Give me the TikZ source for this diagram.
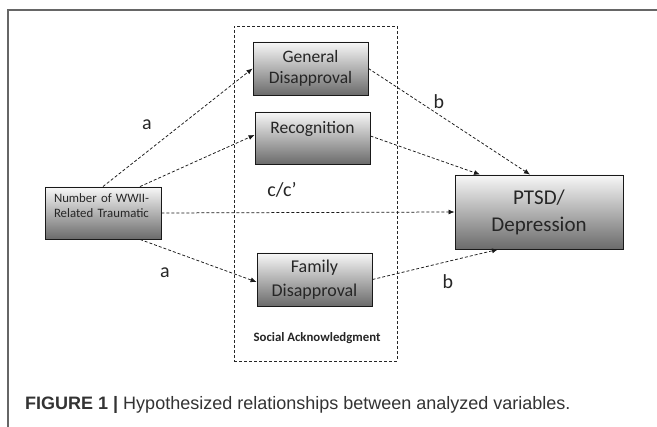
\documentclass[tikz,border=0pt]{standalone}
\usepackage{fontspec}
\setmainfont{Carlito}
\newfontfamily\capfont{Liberation Sans}
\usetikzlibrary{arrows.meta,calc}
\begin{document}
\begin{tikzpicture}[x=1pt,y=-1pt,
  box/.style={draw=black!90, line width=0.9pt, top color=black!3, bottom color=black!58, text=black!85, inner sep=0pt},
  link/.style={dash pattern=on 3pt off 2pt, line width=0.75pt, draw=black!90, -{Latex[length=6pt,width=5pt]}},
  lab/.style={font=\fontsize{20}{22}\selectfont, text=black!85, inner sep=0pt}
]
\useasboundingbox (0,0) rectangle (657,427);
\fill[white] (0,0) rectangle (657,427);
% frame
\draw[black!60, line width=1.3pt] (8,427) -- (8,10) -- (657,10);
% social acknowledgment group
\node[draw=black!85, dash pattern=on 3pt off 2pt, line width=0.8pt, minimum width=163pt, minimum height=335pt, inner sep=0pt] (sa) at (315.5,193.5) {};
\node[font=\bfseries\fontsize{12.8}{14}\selectfont, text=black!85] (salab) at (317,338) {Social Acknowledgment};
% boxes
\node[box, minimum width=115pt, minimum height=53pt, align=center, font=\fontsize{17.5}{20.5}\selectfont] (gen) at (310.5,68.5) {General\\Disapproval};
\node[box, minimum width=115pt, minimum height=52pt, align=center, font=\fontsize{17.5}{20.5}\selectfont] (rec) at (312.5,138) {Recognition\\\mbox{}};
\node[box, minimum width=115pt, minimum height=53pt, align=center, font=\fontsize{18}{24.5}\selectfont] (fam) at (314.5,279.5) {Family\\Disapproval};
\node[box, minimum width=168pt, minimum height=74pt, align=center, font=\fontsize{21}{27}\selectfont] (ptsd) at (539,212) {PTSD/\\Depression};
\node[box, minimum height=52pt, text width=98pt, inner xsep=9pt, align=left, font=\fontsize{12.8}{14.5}\selectfont] (num) at (103,213) {Number of WWII-\\Related Traumatic\\\mbox{}};
% connectors
\draw[link] (num.north) -- (gen.west);
\draw[link] ([xshift=37pt]num.north) -- ([yshift=3pt]rec.west);
\draw[link] (num.east) -- (ptsd.west);
\draw[link] ([xshift=37pt]num.south) -- ([yshift=-2.5pt]fam.west);
\draw[link] (gen.east) -- ([xshift=-9pt]ptsd.north);
\draw[link] ([yshift=2pt]rec.east) -- ([xshift=-59pt]ptsd.north);
\draw[link] (fam.east) -- ([xshift=-41pt]ptsd.south);
% labels
\node[lab] (a1) at (147,125) {a};
\node[lab] (a2) at (165,273) {a};
\node[lab] (b1) at (439,102) {b};
\node[lab] (b2) at (448,282) {b};
\node[lab] (c) at (282,190) {c/c’};
% caption
\node[anchor=base west, inner sep=0pt, text=black!80, font=\capfont\fontsize{18}{20}\selectfont] (cap) at (25,410) {\textbf{FIGURE 1 |} Hypothesized relationships between analyzed variables.};
\end{tikzpicture}
\end{document}
